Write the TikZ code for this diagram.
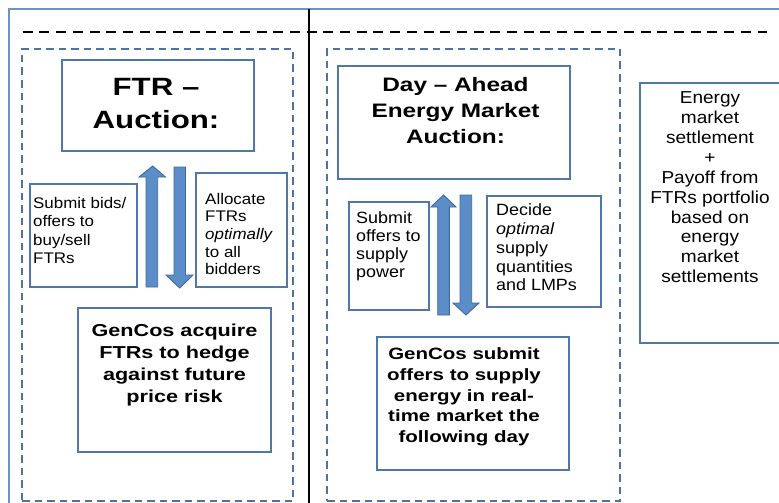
\documentclass[tikz,border=0pt]{standalone}
\usepackage{fontspec}
\setmainfont{Liberation Sans}
\newfontfamily\regf[FakeStretch=1.1,Ligatures=TeX]{Liberation Sans}
\newfontfamily\boldf[FakeStretch=1.25,Ligatures=TeX]{Liberation Sans}
\definecolor{framecol}{HTML}{6F93BF}
\definecolor{boxcol}{HTML}{4F77A8}
\definecolor{dashcol}{HTML}{4D73A3}
\definecolor{arrowfill}{HTML}{5B8DC8}
\definecolor{arrowdraw}{HTML}{41699C}
\tikzset{
  box/.style={draw=boxcol, line width=1.5pt, rectangle, inner sep=0pt, fill=white},
  groupbox/.style={draw=dashcol, line width=1.5pt, dash pattern=on 7.5pt off 5pt, rectangle, inner sep=0pt},
  blockarrow/.style={draw=arrowdraw, fill=arrowfill, line width=0.9pt, line join=miter},
  txt/.style={inner sep=0pt, text=black},
  smalltxt/.style={txt, align=left, anchor=north west},
}
\begin{document}
\begin{tikzpicture}[x=1pt,y=-1pt]
\useasboundingbox (0,0) rectangle (779,503);
\clip (0,0) rectangle (779,503);
\fill[white] (0,0) rectangle (779,503);
% outer frame and dividers
\node[draw=framecol, line width=1.4pt, rectangle, inner sep=0pt, minimum width=790, minimum height=510] (frame) at (404,264) {};
\coordinate (vtop) at (309,9);
\coordinate (vbot) at (309,510);
\draw[black, line width=2.2pt] (vtop) -- (vbot);
\coordinate (dl) at (22.7,32);
\coordinate (dr) at (767,32);
\draw[black, line width=2pt, dash pattern=on 10pt off 6.7pt] (dl) -- (dr);
% group boxes
\node[groupbox, minimum width=271, minimum height=452] (gleft) at (157.5,275) {};
\node[groupbox, minimum width=293, minimum height=452] (gright) at (473.5,275) {};
% left group
\node[box, minimum width=192, minimum height=91] (ftrbox) at (158,105.5) {};
\node[txt, align=center, anchor=north, font={\boldf\bfseries\fontsize{25}{33}\selectfont}] (ftrtxt) at (156,78) {FTR –\\Auction:};
\node[box, minimum width=107, minimum height=103] (bidbox) at (83.5,235.5) {};
\node[smalltxt, font={\regf\fontsize{15.4}{18.5}\selectfont}] (bidtxt) at (33,196.9) {Submit bids/\\offers to\\buy/sell\\FTRs};
\node[box, minimum width=91, minimum height=114] (allocbox) at (241.5,230) {};
\node[smalltxt, font={\regf\fontsize{15.4}{17.6}\selectfont}] (alloctxt) at (205,192.9) {Allocate\\FTRs\\\textit{optimally}\\to all\\bidders};
\node[box, minimum width=193, minimum height=144] (acqbox) at (174.5,380) {};
\node[txt, align=center, anchor=north, font={\boldf\bfseries\fontsize{17.3}{22}\selectfont}] (acqtxt) at (174.5,323.5) {GenCos acquire\\FTRs to hedge\\against future\\price risk};
\draw[blockarrow] (152.7,166) -- (165.5,177) -- (157.7,177) -- (157.7,287) -- (146,287) -- (146,177) -- (139,177) -- cycle;
\draw[blockarrow] (174,167) -- (185.5,167) -- (185.5,275) -- (193,275) -- (179.7,288) -- (166,275) -- (174,275) -- cycle;
% right group
\node[box, minimum width=232, minimum height=113] (dabox) at (454,122.5) {};
\node[txt, align=center, anchor=north, font={\boldf\bfseries\fontsize{19.5}{26}\selectfont}] (datxt) at (455.5,77) {Day – Ahead\\Energy Market\\Auction:};
\node[box, minimum width=80, minimum height=108] (offbox) at (389,256) {};
\node[smalltxt, font={\regf\fontsize{16.3}{18.2}\selectfont}] (offtxt) at (356,211) {Submit\\offers to\\supply\\power};
\node[box, minimum width=114, minimum height=111] (decbox) at (544,251.5) {};
\node[smalltxt, font={\regf\fontsize{16.3}{18.9}\selectfont}] (dectxt) at (496,203.3) {Decide\\\textit{optimal}\\supply\\quantities\\and LMPs};
\node[box, minimum width=192, minimum height=133] (subbox) at (473,403.5) {};
\node[txt, align=center, anchor=north, font={\boldf\bfseries\fontsize{16.4}{20.9}\selectfont}] (subtxt) at (464,347.2) {GenCos submit\\offers to supply\\energy in real-\\time market the\\following day};
\draw[blockarrow] (443.5,195) -- (456,207) -- (449.3,207) -- (449.3,315) -- (437.7,315) -- (437.7,207) -- (431,207) -- cycle;
\draw[blockarrow] (460,195) -- (471.7,195) -- (471.7,303) -- (479,303) -- (466,315) -- (453,303) -- (460,303) -- cycle;
% settlement box
\node[box, minimum width=142, minimum height=260] (setbox) at (711,213) {};
\node[txt, align=center, anchor=north, font={\regf\fontsize{17.3}{19.85}\selectfont}] (settxt) at (710,91.8) {Energy\\market\\settlement\\+\\Payoff from\\FTRs portfolio\\based on\\energy\\market\\settlements};
\end{tikzpicture}
\end{document}
